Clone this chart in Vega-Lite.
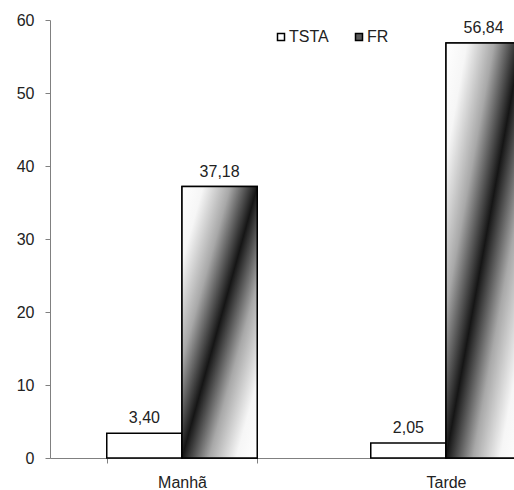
{
  "$schema": "https://vega.github.io/schema/vega-lite/v6.json",
  "width": 464,
  "height": 438,
  "autosize": {"type": "none"},
  "padding": {"left": 50, "top": 20, "right": 0, "bottom": 32},
  "background": "white",
  "config": {"view": {"stroke": null}, "font": "Liberation Sans"},
  "data": {"values": [
    {"periodo": "Manhã", "serie": "TSTA", "valor": 3.40, "rotulo": "3,40"},
    {"periodo": "Manhã", "serie": "FR", "valor": 37.18, "rotulo": "37,18"},
    {"periodo": "Tarde", "serie": "TSTA", "valor": 2.05, "rotulo": "2,05"},
    {"periodo": "Tarde", "serie": "FR", "valor": 56.84, "rotulo": "56,84"}
  ]},
  "encoding": {
    "x": {
      "field": "periodo", "type": "nominal",
      "scale": {"domain": ["Manhã", "Tarde"], "paddingInner": 0.43, "paddingOuter": 0.215, "range": [0, 528]},
      "axis": {"title": null, "labelAngle": 0, "domainColor": "#808080", "tickColor": "#808080", "tickSize": 5, "tickBand": "extent", "labelFontSize": 16, "labelColor": "#222222", "labelPadding": 11, "labelFont": "Liberation Sans"}
    },
    "xOffset": {"field": "serie", "type": "nominal", "scale": {"domain": ["TSTA", "FR"]}},
    "y": {
      "field": "valor", "type": "quantitative",
      "scale": {"domain": [0, 60], "nice": false},
      "axis": {"title": null, "values": [0, 10, 20, 30, 40, 50, 60], "grid": false, "domainColor": "#808080", "tickColor": "#808080", "tickSize": 5, "labelFontSize": 16, "labelColor": "#222222", "labelPadding": 11, "labelFont": "Liberation Sans"}
    }
  },
  "layer": [
    {
      "mark": {"type": "bar", "stroke": "black", "strokeWidth": 1.5},
      "encoding": {
        "fill": {
          "field": "serie", "type": "nominal",
          "scale": {"domain": ["TSTA", "FR"], "range": ["white", "#5a5a5a"]},
          "legend": {"title": null, "orient": "none", "legendX": 223, "legendY": 9, "direction": "horizontal", "symbolType": "square", "symbolSize": 49, "symbolStrokeColor": "black", "symbolStrokeWidth": 1.5, "labelFontSize": 16, "labelColor": "#222222", "labelOffset": 0, "columnPadding": 22, "padding": 0, "labelFont": "Liberation Sans"}
        }
      }
    },
    {
      "transform": [{"filter": "datum.serie === 'FR'"}],
      "mark": {
        "type": "bar", "stroke": "black", "strokeWidth": 1.5,
        "fill": {"gradient": "linear", "x1": 0, "y1": 0, "x2": 1, "y2": 1, "stops": [
          {"offset": 0, "color": "#ffffff"},
          {"offset": 0.14, "color": "#f6f6f6"},
          {"offset": 0.32, "color": "#a8a8a8"},
          {"offset": 0.5, "color": "#151515"},
          {"offset": 0.68, "color": "#a8a8a8"},
          {"offset": 0.86, "color": "#f6f6f6"},
          {"offset": 1, "color": "#ffffff"}
        ]}
      }
    },
    {
      "mark": {"type": "text", "baseline": "alphabetic", "dy": -10, "fontSize": 16, "color": "#222222", "font": "Liberation Sans"},
      "encoding": {"text": {"field": "rotulo"}}
    }
  ]
}
